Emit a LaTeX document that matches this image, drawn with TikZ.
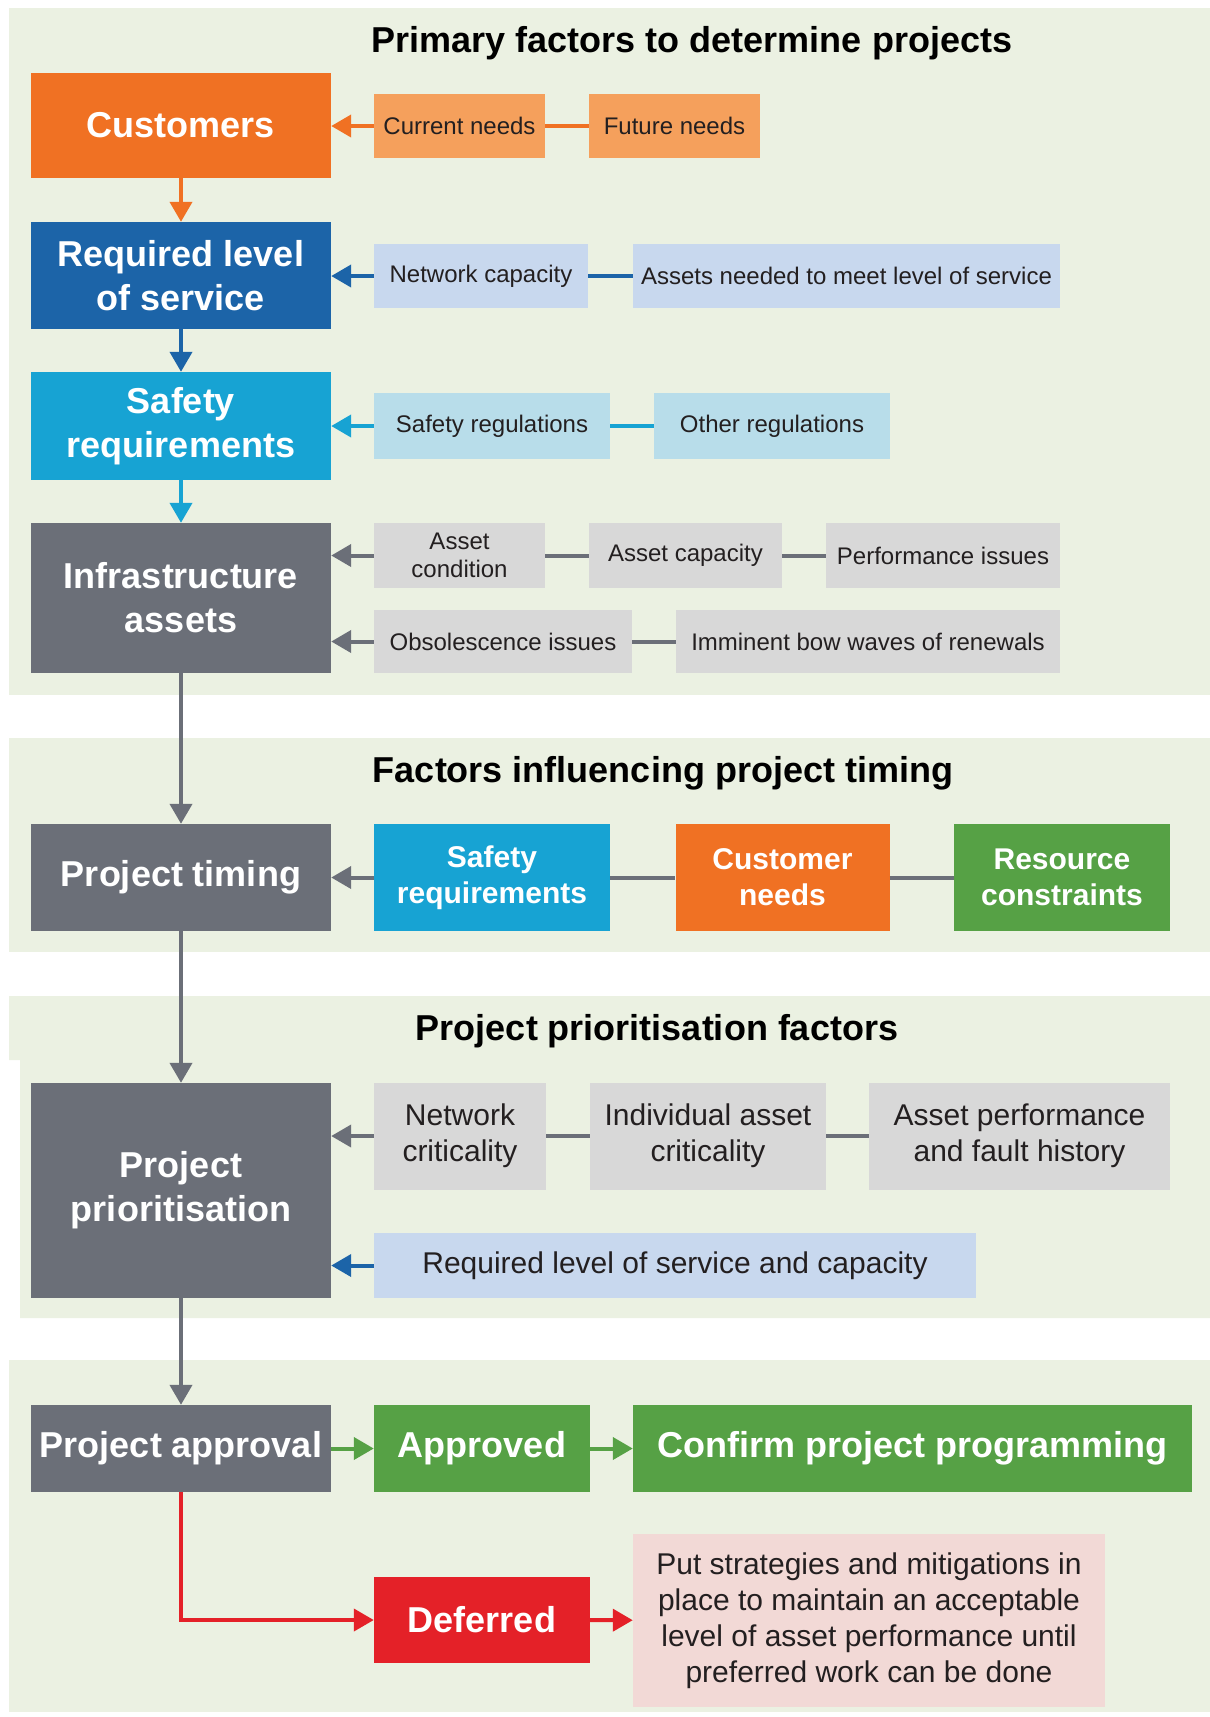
\documentclass[tikz,border=0pt]{standalone}
\usepackage{fontspec}
\setmainfont{Liberation Sans}
\usetikzlibrary{arrows.meta}

\definecolor{panelbg}{HTML}{EBF1E2}
\definecolor{custorange}{HTML}{F07123}
\definecolor{lightorange}{HTML}{F5A05C}
\definecolor{servblue}{HTML}{1C64A8}
\definecolor{lightblue}{HTML}{C8D8EE}
\definecolor{safecyan}{HTML}{17A3D3}
\definecolor{lightcyan}{HTML}{B8DDEA}
\definecolor{assetgrey}{HTML}{6B6F78}
\definecolor{lightgrey}{HTML}{D8D8D8}
\definecolor{okgreen}{HTML}{56A145}
\definecolor{deferredred}{HTML}{E42128}
\definecolor{lightpink}{HTML}{F2D9D6}
\definecolor{bodytext}{HTML}{231F20}

\newcommand{\headfont}{\fontsize{36}{44}\selectfont\bfseries}
\newcommand{\factorfont}{\fontsize{24}{28.5}\selectfont}
\newcommand{\midfont}{\fontsize{30}{36}\selectfont}
\newcommand{\midbold}{\fontsize{30}{36}\selectfont\bfseries}

\tikzset{
  mainbox/.style={fill=#1, text=white, font=\headfont, align=center, minimum width=300pt, inner sep=0pt},
  factor/.style={fill=#1, text=bodytext, font=\factorfont, align=center, inner sep=0pt},
  driver/.style={fill=#1, text=white, font=\midbold, align=center, inner sep=0pt, minimum height=107pt},
  outcome/.style={fill=#1, text=white, font=\headfont, align=center, inner sep=0pt},
  title/.style={font=\headfont, text=black},
  link/.style={draw=#1, line width=4pt},
  feed/.style={draw=#1, line width=4pt, -{Triangle[length=20pt,width=22pt]}}
}

\begin{document}
\begin{tikzpicture}[x=1pt, y=-1pt]
  \useasboundingbox (0,0) rectangle (1210,1717);

  % Panels
  \fill[panelbg] (9,8) rectangle (1210,695);
  \fill[panelbg] (9,738) rectangle (1210,952);
  \fill[panelbg] (9,996) -- (1210,996) -- (1210,1318) -- (20,1318) -- (20,1060) -- (9,1060) -- cycle;
  \fill[panelbg] (9,1360) rectangle (1210,1712);

  % Titles
  \node[title] (primary) at (692,43) {Primary factors to determine projects};
  \node[title] (timingtitle) at (663,773) {Factors influencing project timing};
  \node[title] (priotitle) at (657,1031) {Project prioritisation factors};

  % Main column
  \node[mainbox=custorange, minimum height=105pt] (cust) at (181,125.5) {Customers};
  \node[mainbox=servblue, minimum height=107pt] (rlos) at (181,275.5) {Required level\\of service};
  \node[mainbox=safecyan, minimum height=108pt] (safe) at (181,426) {Safety\\requirements};
  \node[mainbox=assetgrey, minimum height=150pt] (infra) at (181,598) {Infrastructure\\assets};
  \node[mainbox=assetgrey, minimum height=107pt] (timing) at (181,877.5) {Project timing};
  \node[mainbox=assetgrey, minimum height=215pt] (prio) at (181,1190.5) {Project\\prioritisation};
  \node[mainbox=assetgrey, minimum height=87pt] (approval) at (181,1448.5) {Project approval};

  % Primary factors
  \node[factor=lightorange, minimum width=171pt, minimum height=64pt] (curr) at (459.5,126) {Current needs};
  \node[factor=lightorange, minimum width=171pt, minimum height=64pt] (fut) at (674.5,126) {Future needs};
  \node[factor=lightblue, minimum width=214pt, minimum height=64pt] (netcap) at (481,276) {Network capacity};
  \node[factor=lightblue, minimum width=427pt, minimum height=64pt] (needed) at (846.5,276) {Assets needed to meet level of service};
  \node[factor=lightcyan, minimum width=236pt, minimum height=66pt] (safereg) at (492,426) {Safety regulations};
  \node[factor=lightcyan, minimum width=236pt, minimum height=66pt] (otherreg) at (772,426) {Other regulations};
  \node[factor=lightgrey, minimum width=171pt, minimum height=65pt] (cond) at (459.5,555.5) {Asset\\condition};
  \node[factor=lightgrey, minimum width=193pt, minimum height=65pt] (cap) at (685.5,555.5) {Asset capacity};
  \node[factor=lightgrey, minimum width=234pt, minimum height=65pt] (perf) at (943,555.5) {Performance issues};
  \node[factor=lightgrey, minimum width=258pt, minimum height=63pt] (obsol) at (503,641.5) {Obsolescence issues};
  \node[factor=lightgrey, minimum width=384pt, minimum height=63pt] (bow) at (868,641.5) {Imminent bow waves of renewals};

  % Timing factors
  \node[driver=safecyan, minimum width=236pt] (tsafe) at (492,877.5) {Safety\\requirements};
  \node[driver=custorange, minimum width=214pt] (tcust) at (782.5,877.5) {Customer\\needs};
  \node[driver=okgreen, minimum width=216pt] (tres) at (1062,877.5) {Resource\\constraints};

  % Prioritisation factors
  \node[factor=lightgrey, font=\midfont, minimum width=172pt, minimum height=107pt] (netcrit) at (460,1136) {Network\\criticality};
  \node[factor=lightgrey, font=\midfont, minimum width=236pt, minimum height=107pt] (indiv) at (708,1136) {Individual asset\\criticality};
  \node[factor=lightgrey, font=\midfont, minimum width=301pt, minimum height=107pt] (perfhist) at (1019.5,1136) {Asset performance\\and fault history};
  \node[factor=lightblue, font=\midfont, minimum width=602pt, minimum height=65pt] (reqlos) at (675,1265.5) {Required level of service and capacity};

  % Outcomes
  \node[outcome=okgreen, minimum width=216pt, minimum height=87pt] (approved) at (482,1448.5) {Approved};
  \node[outcome=okgreen, minimum width=559pt, minimum height=87pt] (confirm) at (912.5,1448.5) {Confirm project programming};
  \node[outcome=deferredred, minimum width=216pt, minimum height=86pt] (deferred) at (482,1620) {Deferred};
  \node[factor=lightpink, font=\midfont, minimum width=472pt, minimum height=173pt] (strat) at (869,1620.5)
    {Put strategies and mitigations in\\place to maintain an acceptable\\level of asset performance until\\preferred work can be done};

  % Main flow
  \draw[feed=custorange] (cust) -- (rlos);
  \draw[feed=servblue] (rlos) -- (safe);
  \draw[feed=safecyan] (safe) -- (infra);
  \draw[feed=assetgrey] (infra) -- (timing);
  \draw[feed=assetgrey] (timing) -- (prio);
  \draw[feed=assetgrey] (prio) -- (approval);

  % Factor chains
  \draw[link=custorange] (curr) -- (fut);
  \draw[feed=custorange] (curr.west) -- (curr.west -| cust.east);
  \draw[link=servblue] (netcap) -- (needed);
  \draw[feed=servblue] (netcap.west) -- (netcap.west -| rlos.east);
  \draw[link=safecyan] (safereg) -- (otherreg);
  \draw[feed=safecyan] (safereg.west) -- (safereg.west -| safe.east);
  \draw[link=assetgrey] (cond) -- (cap);
  \draw[link=assetgrey] (cap) -- (perf);
  \draw[feed=assetgrey] (cond.west) -- (cond.west -| infra.east);
  \draw[link=assetgrey] (obsol) -- (bow);
  \draw[feed=assetgrey] (obsol.west) -- (obsol.west -| infra.east);
  \draw[link=assetgrey] (tsafe) -- (tcust);
  \draw[link=assetgrey] (tcust) -- (tres);
  \draw[feed=assetgrey] (tsafe.west) -- (tsafe.west -| timing.east);
  \draw[link=assetgrey] (netcrit) -- (indiv);
  \draw[link=assetgrey] (indiv) -- (perfhist);
  \draw[feed=assetgrey] (netcrit.west) -- (netcrit.west -| prio.east);
  \draw[feed=servblue] (reqlos.west) -- (reqlos.west -| prio.east);

  % Approval paths
  \draw[feed=okgreen] (approval) -- (approved);
  \draw[feed=okgreen] (approved) -- (confirm);
  \draw[feed=deferredred] (approval.south) |- (deferred.west);
  \draw[feed=deferredred] (deferred) -- (strat);
\end{tikzpicture}
\end{document}
